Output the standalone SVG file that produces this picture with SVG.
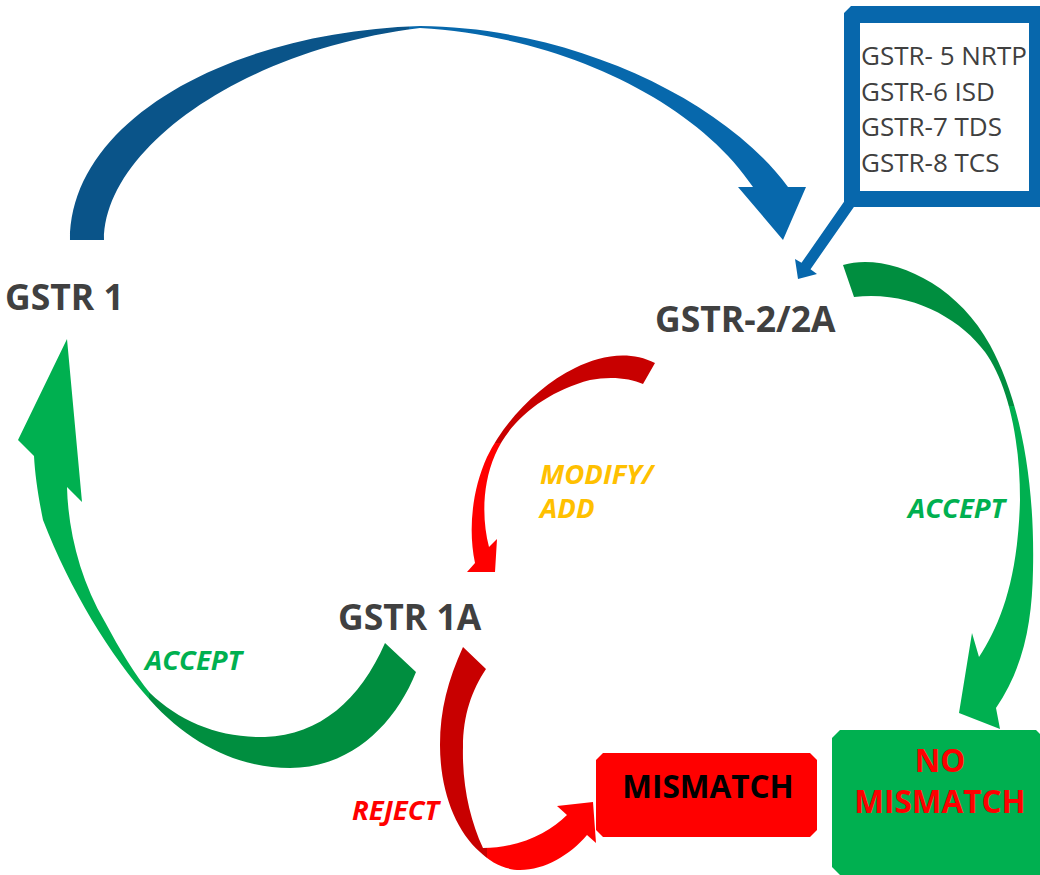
<svg xmlns="http://www.w3.org/2000/svg" width="1040" height="875" viewBox="0 0 1040 875">
<style>
.title{font-family:"Open Sans","Liberation Sans",sans-serif;font-weight:700;font-size:35.5px;fill:#404040}
.lbl{font-family:"Open Sans","Liberation Sans",sans-serif;font-weight:700;font-style:italic;font-size:27.5px}
.cal{font-family:"Open Sans","Liberation Sans",sans-serif;font-size:26px;fill:#404040}
.box{font-family:"Open Sans","Liberation Sans",sans-serif;font-weight:700;font-size:31.5px;text-anchor:middle}
</style>
<defs>
<linearGradient id="gBlue" gradientUnits="userSpaceOnUse" x1="70" y1="0" x2="806" y2="0">
<stop offset="0" stop-color="#0A5489"/><stop offset="0.46" stop-color="#0A5489"/><stop offset="0.46" stop-color="#0768AC"/><stop offset="1" stop-color="#0768AC"/>
</linearGradient>
<linearGradient id="gGreenR" gradientUnits="userSpaceOnUse" x1="0" y1="260" x2="0" y2="730">
<stop offset="0" stop-color="#008E3F"/><stop offset="0.31" stop-color="#008E3F"/><stop offset="0.31" stop-color="#00B050"/><stop offset="1" stop-color="#00B050"/>
</linearGradient>
<linearGradient id="gGreenL" gradientUnits="userSpaceOnUse" x1="18" y1="0" x2="416" y2="0">
<stop offset="0" stop-color="#00B050"/><stop offset="0.33" stop-color="#00B050"/><stop offset="0.33" stop-color="#008E3F"/><stop offset="1" stop-color="#008E3F"/>
</linearGradient>
<linearGradient id="gRedM" gradientUnits="userSpaceOnUse" x1="0" y1="350" x2="0" y2="572">
<stop offset="0" stop-color="#C80000"/><stop offset="0.42" stop-color="#C80000"/><stop offset="0.42" stop-color="#FF0000"/><stop offset="1" stop-color="#FF0000"/>
</linearGradient>
<linearGradient id="gRedR" gradientUnits="userSpaceOnUse" x1="440" y1="0" x2="597" y2="0">
<stop offset="0" stop-color="#C80000"/><stop offset="0.3" stop-color="#C80000"/><stop offset="0.3" stop-color="#FF0000"/><stop offset="1" stop-color="#FF0000"/>
</linearGradient>
</defs>

<g id="connectors">
<path id="arrow-gstr1-to-gstr2" fill="url(#gBlue)" d="M70,240 C70,120 230,32 420,26 C565,27 720,95 788,187 L806,187 L783,240 L738,187 L753,187 C695,100 560,36 420,28 C240,50 104,150 104,240 Z"/>
<path id="arrow-gstr2-to-nomismatch" fill="url(#gGreenR)" d="M843,265 C885,252 955,280 990,345 C1020,400 1035,480 1033,570 C1032,620 1025,665 996,708 L1000,729 L959,713 L972,633 L979,657 C1000,625 1018,580 1020,500 C1020,430 1005,380 985,352 C960,318 910,290 854,297 Z"/>
<path id="arrow-gstr1a-to-gstr1" fill="url(#gGreenL)" d="M385,643 L416,672 C395,725 350,768 290,768 C240,768 190,745 150,700 C110,655 70,590 43,520 C38,495 35,475 34,456 L18,440 L67,339 L82,502 L67,487 C68,530 80,580 105,622 C120,650 135,675 150,693 C180,722 220,738 265,737 C320,735 360,700 385,643 Z"/>
<path id="arrow-gstr2-to-gstr1a" fill="url(#gRedM)" d="M655,363 C630,350 600,355 575,368 C540,385 505,420 487,457 C472,490 468,530 475,563 L467,572 L495,572 L497,539 L489,547 C482,520 482,485 495,455 C510,420 545,392 590,380 C610,376 630,378 643,384 Z"/>
<path id="arrow-gstr1a-to-mismatch" fill="url(#gRedR)" d="M463,647 C448,680 440,710 440,745 C440,790 455,830 480,852 C490,862 505,870 520,870 C545,870 570,855 587,835 L596,843 L593,802 L557,806 L567,815 C550,832 520,848 483,848 C470,820 462,785 463,747 C463,715 472,690 486,669 Z"/>
<text class="lbl" x="540" y="484" fill="#FFC000">MODIFY/</text>
<text class="lbl" x="540" y="518" fill="#FFC000">ADD</text>
<text class="lbl" x="908" y="518" fill="#00B050">ACCEPT</text>
<text class="lbl" x="145" y="670" fill="#00B050">ACCEPT</text>
<text class="lbl" x="352" y="820" fill="#FF0000">REJECT</text>
</g>

<g id="callout">
<polygon fill="#0767AC" points="847.5,196.8 856.5,203.2 810.5,269.2 817,274 798,279 795,259 801.5,262.8"/>
<path fill="#0767AC" fill-rule="evenodd" d="M851,6 L1040,6 L1040,207 L844,207 L844,13 Z M860,23 L1029,23 L1029,191 L860,191 Z"/>
<text class="cal" x="861" y="65">GSTR- 5 NRTP</text>
<text class="cal" x="861" y="100.5">GSTR-6 ISD</text>
<text class="cal" x="861" y="136">GSTR-7 TDS</text>
<text class="cal" x="861" y="171.5">GSTR-8 TCS</text>
</g>

<g id="gstr1"><text class="title" x="5" y="310">GSTR 1</text></g>
<g id="gstr2"><text class="title" x="655" y="332">GSTR-2/2A</text></g>
<g id="gstr1a"><text class="title" x="338" y="630">GSTR 1A</text></g>

<g id="mismatch">
<path fill="#FF0000" d="M603,753 L810,753 L817,760 L817,830 L810,837 L603,837 L596,830 L596,760 Z"/>
<text class="box" x="708" y="798" fill="#000000">MISMATCH</text>
</g>
<g id="nomismatch">
<path fill="#00B050" d="M840,730 L1036,730 L1040,734 L1040,875 L840,875 L832,867 L832,738 Z"/>
<text class="box" x="940" y="772" fill="#FF0000">NO</text>
<text class="box" x="940" y="813" fill="#FF0000">MISMATCH</text>
</g>
</svg>
